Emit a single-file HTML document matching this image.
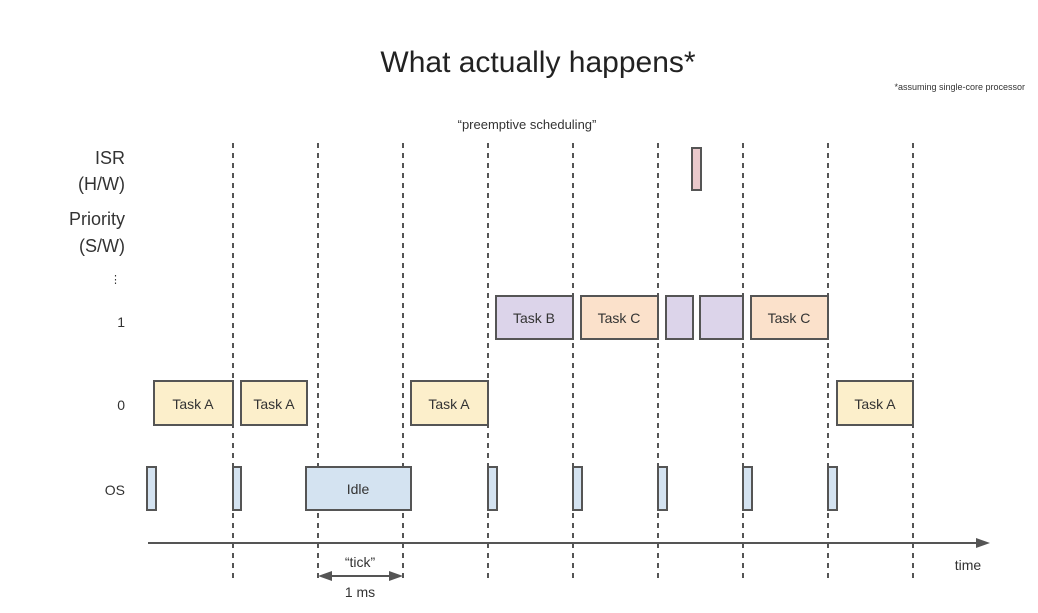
<!DOCTYPE html>
<html><head><meta charset="utf-8"><style>html,body{margin:0;padding:0;background:#fff}svg{display:block}</style></head>
<body>
<svg width="1038" height="613" viewBox="0 0 1038 613" xmlns="http://www.w3.org/2000/svg" font-family="Liberation Sans, sans-serif" fill="#222">
<text x="538" y="72" font-size="30" text-anchor="middle">What actually happens*</text>
<text x="1025" y="90" font-size="9" text-anchor="end" fill="#333">*assuming single-core processor</text>
<text x="527" y="129" font-size="13" text-anchor="middle" fill="#333">“preemptive scheduling”</text>
<g font-size="18" text-anchor="end" fill="#333">
<text x="125" y="164">ISR</text>
<text x="125" y="190">(H/W)</text>
<text x="125" y="225">Priority</text>
<text x="125" y="252">(S/W)</text>
<text x="121" y="283" font-size="11">⋮</text>
<text x="125" y="327" font-size="14">1</text>
<text x="125" y="410" font-size="14">0</text>
<text x="125" y="495" font-size="14">OS</text>
</g>
<g stroke="#555" stroke-width="2" stroke-dasharray="5,5">
<line x1="233" y1="143" x2="233" y2="582"/><line x1="318" y1="143" x2="318" y2="582"/>
<line x1="403" y1="143" x2="403" y2="582"/><line x1="488" y1="143" x2="488" y2="582"/>
<line x1="573" y1="143" x2="573" y2="582"/><line x1="658" y1="143" x2="658" y2="582"/>
<line x1="743" y1="143" x2="743" y2="582"/><line x1="828" y1="143" x2="828" y2="582"/>
<line x1="913" y1="143" x2="913" y2="582"/>
</g>
<g stroke="#555" stroke-width="2">
<rect x="692" y="148" width="9" height="42" fill="#eac9cc"/>
<rect x="154" y="381" width="79" height="44" fill="#fcefcb"/>
<rect x="241" y="381" width="66" height="44" fill="#fcefcb"/>
<rect x="411" y="381" width="77" height="44" fill="#fcefcb"/>
<rect x="837" y="381" width="76" height="44" fill="#fcefcb"/>
<rect x="496" y="296" width="77" height="43" fill="#dcd4ea"/>
<rect x="581" y="296" width="77" height="43" fill="#fbe1cb"/>
<rect x="666" y="296" width="27" height="43" fill="#dcd4ea"/>
<rect x="700" y="296" width="43" height="43" fill="#dcd4ea"/>
<rect x="751" y="296" width="77" height="43" fill="#fbe1cb"/>
<rect x="306" y="467" width="105" height="43" fill="#d4e3f1"/>
<rect x="147" y="467" width="9" height="43" fill="#d4e3f1"/>
<rect x="233" y="467" width="8" height="43" fill="#d4e3f1"/>
<rect x="488" y="467" width="9" height="43" fill="#d4e3f1"/>
<rect x="573" y="467" width="9" height="43" fill="#d4e3f1"/>
<rect x="658" y="467" width="9" height="43" fill="#d4e3f1"/>
<rect x="743" y="467" width="9" height="43" fill="#d4e3f1"/>
<rect x="828" y="467" width="9" height="43" fill="#d4e3f1"/>
<line x1="148" y1="543" x2="978" y2="543"/>
<line x1="330" y1="576" x2="391" y2="576"/>
</g>
<polygon points="990,543 976,538 976,548" fill="#555"/>
<polygon points="318,576 332,571 332,581" fill="#555"/>
<polygon points="403,576 389,571 389,581" fill="#555"/>
<g font-size="14" text-anchor="middle" fill="#333">
<text x="193" y="409">Task A</text><text x="274" y="409">Task A</text>
<text x="449" y="409">Task A</text><text x="875" y="409">Task A</text>
<text x="534" y="323">Task B</text><text x="619" y="323">Task C</text><text x="789" y="323">Task C</text>
<text x="358" y="494">Idle</text>
<text x="360" y="567">“tick”</text>
<text x="360" y="597">1 ms</text>
<text x="968" y="570">time</text>
</g>
</svg>
</body></html>
